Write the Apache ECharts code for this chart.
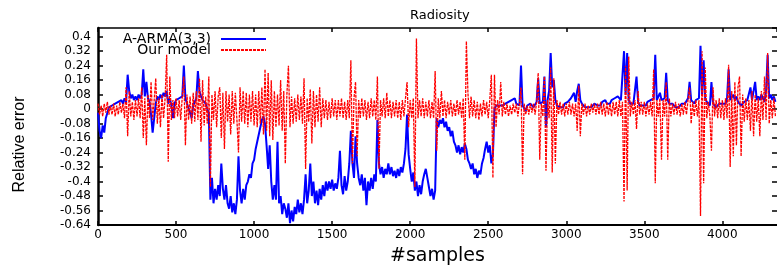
<!DOCTYPE html>
<html>
<head>
<meta charset="utf-8">
<script src="https://cdn.jsdelivr.net/npm/echarts@6/dist/echarts.min.js"></script>
<style>
  html, body { margin: 0; padding: 0; background: #fff; }
  #chart { width: 777px; height: 271px; }
</style>
</head>
<body>
<div id="chart"></div>
<script>
// one value every 10 samples
const sampleStep = 10;

// A-ARMA(3,3) relative error
const armaErr = [
  -0.02,-0.12,-0.16,-0.09,-0.13,-0.05,-0.02,0.01,0.0,0.02,0.01,0.03,0.02,0.04,0.03,0.05,0.03,0.06,0.04,0.19,
  0.1,0.06,0.08,0.05,0.07,0.05,0.08,0.06,0.08,0.22,0.07,0.15,0.06,0.04,-0.03,-0.13,-0.05,0.03,0.07,0.05,
  0.08,0.06,0.09,0.07,0.1,0.03,0.06,0.02,-0.05,0.03,0.05,0.04,0.06,0.05,0.07,0.24,0.06,0.03,0.02,-0.02,
  -0.05,0.02,0.04,0.06,0.21,0.1,0.07,0.05,0.06,0.03,0.0,-0.02,-0.5,-0.38,-0.52,-0.44,-0.5,-0.42,-0.48,-0.3,
  -0.44,-0.5,-0.42,-0.52,-0.55,-0.48,-0.57,-0.52,-0.58,-0.5,-0.26,-0.45,-0.52,-0.44,-0.5,-0.42,-0.4,-0.36,-0.38,-0.3,
  -0.28,-0.22,-0.18,-0.14,-0.1,-0.06,-0.04,-0.08,-0.2,-0.33,-0.2,-0.4,-0.5,-0.42,-0.5,-0.18,-0.52,-0.48,-0.58,-0.52,
  -0.55,-0.6,-0.52,-0.63,-0.56,-0.62,-0.54,-0.58,-0.5,-0.57,-0.52,-0.58,-0.5,-0.36,-0.52,-0.45,-0.3,-0.48,-0.4,-0.52,
  -0.45,-0.53,-0.44,-0.5,-0.42,-0.48,-0.4,-0.45,-0.4,-0.44,-0.39,-0.45,-0.41,-0.44,-0.38,-0.23,-0.42,-0.47,-0.37,-0.45,
  -0.4,-0.3,-0.12,-0.3,-0.38,-0.15,-0.3,-0.38,-0.42,-0.36,-0.45,-0.38,-0.53,-0.4,-0.45,-0.38,-0.44,-0.36,-0.4,-0.06,
  -0.3,-0.36,-0.32,-0.38,-0.33,-0.36,-0.3,-0.36,-0.32,-0.37,-0.34,-0.38,-0.33,-0.37,-0.32,-0.35,-0.3,-0.22,-0.03,-0.25,
  -0.33,-0.4,-0.35,-0.45,-0.4,-0.48,-0.42,-0.47,-0.4,-0.36,-0.33,-0.38,-0.43,-0.48,-0.44,-0.5,-0.45,-0.05,-0.1,-0.06,
  -0.08,-0.05,-0.1,-0.07,-0.12,-0.1,-0.15,-0.12,-0.18,-0.2,-0.24,-0.2,-0.25,-0.21,-0.24,-0.19,-0.22,-0.28,-0.3,-0.33,
  -0.3,-0.36,-0.33,-0.38,-0.34,-0.36,-0.3,-0.27,-0.22,-0.18,-0.24,-0.2,-0.3,-0.25,0.0,0.02,0.01,0.02,0.03,0.02,
  0.02,0.03,0.02,0.04,0.03,0.05,0.04,0.06,0.03,0.04,0.02,0.24,0.02,0.01,-0.01,0.02,0.01,0.03,0.02,0.01,
  0.02,0.04,0.17,0.03,0.02,0.04,0.18,-0.1,0.05,0.1,0.31,0.12,0.16,0.05,0.02,0.03,0.01,0.02,0.01,0.03,
  0.02,0.04,0.03,0.06,0.05,0.09,0.04,0.1,0.14,0.05,0.03,0.02,0.01,0.02,0.01,0.02,0.01,0.02,0.03,0.02,
  0.02,0.03,0.02,0.04,0.03,0.05,0.03,0.04,0.03,0.05,0.04,0.06,0.05,0.07,0.06,0.05,0.06,0.32,0.08,0.31,
  0.05,0.03,0.02,0.03,0.02,0.18,0.04,0.02,0.01,0.02,0.03,0.02,0.04,0.03,0.05,0.04,0.06,0.3,0.05,0.04,
  0.09,0.05,0.04,0.06,0.2,0.05,0.03,0.02,0.03,0.02,0.01,0.02,0.01,0.02,0.03,0.02,0.03,0.04,0.06,0.15,
  0.05,0.04,0.03,0.05,0.04,0.06,0.35,0.08,0.27,0.06,0.04,0.03,0.02,0.15,0.03,0.02,0.01,0.02,0.03,0.02,
  0.03,0.04,0.03,0.06,0.22,0.05,0.04,0.08,0.05,0.07,0.04,0.03,0.02,0.03,0.04,0.03,0.05,0.04,0.12,0.05,
  0.06,0.15,0.05,0.07,0.05,0.08,0.06,0.04,0.1,0.3,0.06,0.08,0.05,0.07,0.04
];

// Our model relative error
const ourErr = [
  0.03,-0.03,0.02,-0.04,0.03,-0.02,0.04,-0.03,0.02,-0.03,0.03,-0.04,0.02,-0.03,0.04,-0.02,0.03,-0.05,0.12,-0.15,
  0.1,-0.04,0.04,-0.06,0.05,-0.04,0.06,-0.05,0.12,-0.16,0.06,-0.2,0.08,-0.05,0.15,-0.06,0.05,0.17,-0.08,0.06,
  -0.1,0.08,-0.05,0.06,0.3,-0.29,0.18,-0.06,0.05,-0.05,0.06,-0.04,0.05,-0.06,0.07,0.18,-0.2,0.08,-0.06,0.07,
  -0.08,0.09,-0.07,0.1,-0.06,0.17,-0.18,0.16,-0.09,0.07,-0.08,0.18,-0.43,0.08,-0.06,0.1,-0.1,0.07,0.12,-0.16,
  0.09,-0.22,0.1,-0.07,0.08,-0.14,0.1,-0.08,0.09,-0.06,-0.24,0.12,-0.07,0.1,-0.08,0.09,-0.1,0.08,-0.07,0.1,
  -0.09,0.08,-0.1,0.1,-0.08,0.12,-0.14,0.22,-0.12,0.2,-0.15,0.16,-0.17,0.1,-0.1,0.08,-0.09,0.16,-0.12,0.1,
  -0.3,0.08,0.24,-0.1,0.07,-0.08,0.06,-0.07,0.08,-0.06,0.07,-0.08,0.17,-0.33,0.06,-0.07,0.11,-0.19,0.1,-0.1,
  0.08,-0.07,0.12,-0.1,0.06,-0.05,0.05,-0.06,0.04,-0.05,0.06,-0.04,0.05,-0.06,0.05,-0.04,0.06,-0.05,0.04,-0.06,
  0.05,-0.05,0.27,-0.3,0.06,0.15,-0.26,0.05,-0.05,0.06,-0.04,0.05,-0.06,0.04,-0.05,0.06,-0.04,0.05,-0.06,0.18,
  -0.33,0.05,-0.04,0.06,-0.05,0.09,-0.04,0.05,-0.05,0.04,-0.04,0.05,-0.05,0.04,-0.06,0.05,-0.04,0.06,0.15,-0.1,
  0.05,-0.05,0.06,-0.43,0.39,-0.05,0.05,-0.04,0.06,-0.05,0.04,-0.04,0.05,-0.05,0.04,-0.05,0.21,-0.23,0.06,-0.05,
  0.1,-0.04,0.05,-0.05,0.04,-0.03,0.05,-0.04,0.03,-0.04,0.05,-0.03,0.04,-0.05,0.06,-0.28,0.375,0.09,-0.05,0.07,
  -0.04,0.05,-0.05,0.04,-0.06,0.03,-0.04,0.05,-0.03,0.04,-0.05,0.05,0.19,-0.38,0.19,-0.1,0.05,-0.03,0.15,-0.04,
  0.04,-0.03,0.03,-0.04,0.02,-0.03,0.03,-0.02,0.03,-0.04,0.03,0.12,-0.36,0.03,-0.03,0.02,-0.03,0.03,-0.02,0.03,
  -0.03,0.04,0.2,-0.28,0.03,-0.04,0.18,-0.34,0.05,-0.05,0.23,-0.35,0.17,-0.3,0.05,-0.03,0.04,-0.03,0.03,-0.04,
  0.03,-0.03,0.04,-0.03,0.03,-0.04,0.03,-0.12,0.13,-0.15,0.03,-0.03,0.03,-0.04,0.02,-0.03,0.03,-0.02,0.03,-0.03,
  0.03,-0.03,0.04,-0.03,0.03,-0.04,0.04,-0.03,0.03,-0.04,0.04,-0.03,0.04,-0.04,0.05,-0.04,0.04,-0.51,0.24,-0.45,
  0.29,-0.04,0.04,-0.03,0.05,-0.11,0.1,-0.03,0.04,-0.03,0.04,-0.04,0.03,-0.03,0.04,-0.04,0.22,-0.41,0.05,-0.04,
  0.06,-0.28,0.05,-0.04,0.15,-0.28,0.06,-0.04,0.03,-0.03,0.04,-0.03,0.03,-0.04,0.03,-0.03,0.04,-0.03,0.05,0.12,
  -0.08,0.04,-0.04,0.05,-0.04,0.05,-0.59,0.32,-0.41,0.23,-0.05,0.04,-0.04,-0.23,0.12,-0.04,0.05,-0.05,0.06,-0.05,
  0.05,-0.06,0.06,-0.05,0.245,-0.32,0.1,-0.26,0.15,-0.2,0.12,0.18,-0.26,0.08,-0.07,0.06,-0.06,0.05,-0.12,0.1,
  -0.15,0.08,-0.07,0.06,-0.15,0.1,-0.06,0.18,-0.06,0.31,-0.08,0.05,-0.05,0.06,-0.04
];

const seriesNames = ['A-ARMA(3,3)', 'Our model'];

function toPairs(arr) {
  return arr.map((v, i) => [i * sampleStep, v]);
}

var font = 'DejaVu Sans';
var myChart = echarts.init(document.getElementById('chart'));

var legendBase = {
  right: 505,
  align: 'right',
  itemWidth: 45,
  itemHeight: 10,
  itemStyle: { opacity: 0 },
  textStyle: { fontFamily: font, fontSize: 14, color: '#000', padding: [0, 5, 0, 0] }
};

var option = {
  animation: false,
  backgroundColor: '#fff',
  title: {
    text: 'Radiosity',
    left: 405,
    top: 4,
    textStyle: { fontFamily: font, fontSize: 13, fontWeight: 'normal', color: '#000' }
  },
  legend: [
    Object.assign({}, legendBase, { data: [seriesNames[0]], top: 27 }),
    Object.assign({}, legendBase, { data: [seriesNames[1]], top: 38 })
  ],
  grid: { left: 98, top: 28, bottom: 35, right: -2 },
  xAxis: [
    {
      type: 'value',
      min: 0,
      max: 4350,
      interval: 500,
      name: '#samples',
      nameLocation: 'middle',
      nameGap: 22,
      nameTextStyle: { fontFamily: font, fontSize: 19, color: '#000' },
      axisLine: { onZero: false, lineStyle: { color: '#000', width: 2 } },
      axisTick: { inside: true, length: 4, lineStyle: { color: '#000', width: 1.5 } },
      axisLabel: {
        fontFamily: font, fontSize: 12, color: '#000', margin: 4,
        showMaxLabel: false,
        formatter: function (v) { return String(v); }
      },
      splitLine: { show: false }
    },
    {
      type: 'value',
      position: 'top',
      min: 0,
      max: 4350,
      interval: 500,
      axisLine: { onZero: false, lineStyle: { color: '#000', width: 1.5 } },
      axisTick: { inside: true, length: 4, lineStyle: { color: '#000', width: 1.5 } },
      axisLabel: { show: false },
      splitLine: { show: false }
    }
  ],
  yAxis: [
    {
      type: 'value',
      min: -0.64,
      max: 0.448,
      interval: 0.08,
      name: 'Relative error',
      nameLocation: 'middle',
      nameGap: 70,
      nameTextStyle: { fontFamily: 'Liberation Sans', fontSize: 16, color: '#000', padding: [0, 36, 0, 0] },
      axisLine: { onZero: false, lineStyle: { color: '#000', width: 2.5 } },
      axisTick: { inside: true, length: 5, lineStyle: { color: '#000', width: 1.5 } },
      axisLabel: { fontFamily: font, fontSize: 12, color: '#000', margin: 7, showMaxLabel: false },
      splitLine: { show: false }
    },
    {
      type: 'value',
      position: 'right',
      min: -0.64,
      max: 0.448,
      interval: 0.08,
      axisLine: { show: false, onZero: false },
      axisTick: { show: true, inside: true, length: 5, lineStyle: { color: '#000', width: 1.5 } },
      axisLabel: { show: false },
      splitLine: { show: false }
    }
  ],
  series: [
    {
      name: seriesNames[0],
      type: 'line',
      data: toPairs(armaErr),
      symbol: 'none',
      color: '#0000ff',
      lineStyle: { color: '#0000ff', width: 2 },
      z: 2
    },
    {
      name: seriesNames[1],
      type: 'line',
      data: toPairs(ourErr),
      symbol: 'none',
      color: '#ff0000',
      lineStyle: { color: '#ff0000', width: 1.3, type: [3, 1] },
      z: 3
    }
  ]
};

myChart.setOption(option);
</script>
</body>
</html>
